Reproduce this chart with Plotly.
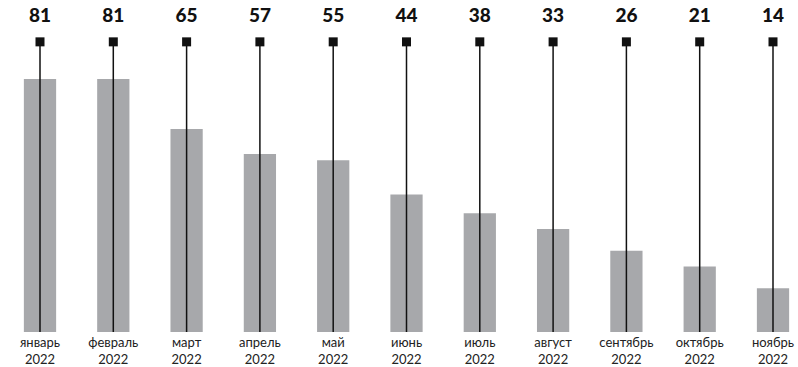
import plotly.graph_objects as go

months = ["январь", "февраль", "март", "апрель", "май", "июнь",
          "июль", "август", "сентябрь", "октябрь", "ноябрь"]
year = "2022"
values = [81, 81, 65, 57, 55, 44, 38, 33, 26, 21, 14]

x_idx = list(range(len(months)))
tick_text = [f"{m}<br>{year}" for m in months]

marker_level = 92.9
label_level = 100.8

line_x, line_y = [], []
for i in x_idx:
    line_x += [i, i, None]
    line_y += [0, marker_level, None]

fig = go.Figure()
fig.add_trace(go.Bar(x=x_idx, y=values, width=0.44,
                     marker=dict(color="#a7a8ab", line=dict(width=0)),
                     hoverinfo="skip"))
fig.add_trace(go.Scatter(x=line_x, y=line_y, mode="lines",
                         line=dict(color="#111111", width=1.5),
                         hoverinfo="skip"))
fig.add_trace(go.Scatter(x=x_idx, y=[marker_level] * len(x_idx), mode="markers",
                         marker=dict(symbol="square", size=9, color="#111111"),
                         hoverinfo="skip"))
fig.add_trace(go.Scatter(x=x_idx, y=[label_level] * len(x_idx), mode="text",
                         text=[str(v) for v in values],
                         textfont=dict(family="Lato", size=19, color="#111111", weight=900),
                         textposition="middle center", hoverinfo="skip"))

fig.update_layout(
    width=798, height=367,
    margin=dict(l=0, r=0, t=0, b=35),
    paper_bgcolor="white", plot_bgcolor="white",
    showlegend=False,
    xaxis=dict(range=[-0.5457, 10.341], tickmode="array", tickvals=x_idx,
               ticktext=tick_text, showgrid=False, zeroline=False,
               showline=False, ticks="", ticklabelstandoff=1, automargin=False,
               tickfont=dict(family="Lato", size=13, color="#222222")),
    yaxis=dict(range=[0, 106.3], visible=False),
)

fig.write_html("out.html")
